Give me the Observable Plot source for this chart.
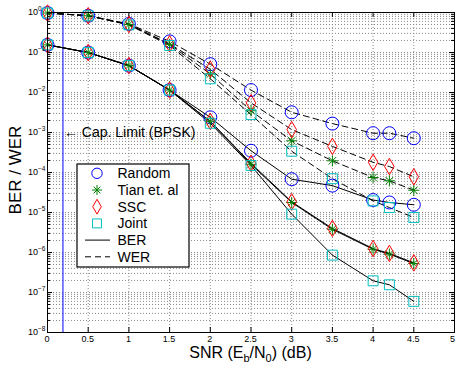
<!DOCTYPE html>
<html><head><meta charset="utf-8">
<script src="https://cdn.jsdelivr.net/npm/d3@7"></script>
<script src="https://cdn.jsdelivr.net/npm/@observablehq/plot@0.6"></script>
<style>
body{margin:0;background:#fff}
svg{font-family:"Liberation Sans",Arial,Helvetica,sans-serif}
</style>
</head><body><div id="chart"></div>
<script>
// ---- data ----
const snr = [0, 0.5, 1, 1.5, 2, 2.5, 3, 3.5, 4, 4.2, 4.5];
const schemes = ["Random", "Tian et. al", "SSC", "Joint"];
const berRandom = [0.155, 0.1, 0.047, 0.0115, 0.0024, 3.5e-4, 6.8e-5, 4.7e-5, 2.05e-5, 1.78e-5, 1.56e-5];
const berTian   = [0.155, 0.1, 0.047, 0.0115, 0.0019, 1.6e-4, 1.78e-5, 3.8e-6, 1.2e-6, 9.1e-7, 5.3e-7];
const berSSC    = [0.155, 0.1, 0.047, 0.0115, 0.0019, 1.7e-4, 1.85e-5, 4.0e-6, 1.25e-6, 9.5e-7, 5.5e-7];
const berJoint  = [0.155, 0.1, 0.047, 0.0115, 0.0017, 1.5e-4, 9.1e-6, 8.6e-7, 1.96e-7, 1.56e-7, 6e-8];
const werRandom = [0.97, 0.83, 0.52, 0.19, 0.051, 0.0115, 0.0032, 0.00167, 0.00096, 0.00096, 0.00072];
const werTian   = [0.97, 0.83, 0.5, 0.16, 0.029, 0.0035, 0.00062, 0.000196, 7.5e-5, 6.2e-5, 3.6e-5];
const werSSC    = [0.97, 0.83, 0.5, 0.165, 0.038, 0.0055, 0.00118, 0.00045, 1.8e-4, 1.41e-4, 7.8e-5];
const werJoint  = [0.97, 0.83, 0.49, 0.15, 0.022, 0.0028, 0.00034, 7.0e-5, 1.95e-5, 1.33e-5, 7.5e-6];
const capLimit = [0.19];
const capLabel = "← Cap. Limit (BPSK)";
const capLabelY = 1e-3;
const xTicks = [0, 0.5, 1, 1.5, 2, 2.5, 3, 3.5, 4, 4.5, 5];
const yDecades = [0, -1, -2, -3, -4, -5, -6, -7, -8];
const lineLabels = ["BER", "WER"];

// ---- styles ----
const colors = ["#0000ff", "#008000", "#ff0000", "#00bfbf"];
const symbols = ["circle", "star", "diamond", "square"];
const radii = {circle: 6.5, diamond: 5, square: 5.6, star: 3.5};

const berSeries = [berRandom, berTian, berSSC, berJoint];
const werSeries = [werRandom, werTian, werSSC, werJoint];
const rows = [];
schemes.forEach((s, i) => snr.forEach((x, j) => rows.push({scheme: s, i, snr: x, ber: berSeries[i][j], wer: werSeries[i][j]})));

const yMinor = [];
for (let e = -8; e < 0; e++) for (let k = 1; k <= 9; k++) yMinor.push(k * 10 ** e);
yMinor.push(1);
const yMinorOnly = yMinor.filter(v => Math.abs(Math.log10(v) - Math.round(Math.log10(v))) > 1e-9);
const yMajor = yDecades.map(e => 10 ** e);

const W = 455, H = 368, mL = 47, mR = 1, mT = 12, mB = 36;
const fw = W - mL - mR, fh = H - mT - mB;
const gridStyle = {stroke: "#8a8a8a", strokeDasharray: "1,2", strokeWidth: 1};

function dotsFor(i, key) {
  const sym = symbols[i];
  const data = rows.filter(d => d.i === i);
  if (sym === "star") {
    return [
      Plot.dot(data, {x: "snr", y: key, symbol: "plus", r: radii.star * 1.05, stroke: colors[i], fill: "none", strokeWidth: 1}),
      Plot.dot(data, {x: "snr", y: key, symbol: "times", r: radii.star, stroke: colors[i], fill: "none", strokeWidth: 1})
    ];
  }
  return [Plot.dot(data, {x: "snr", y: key, symbol: sym, r: radii[sym], stroke: colors[i], fill: "none", strokeWidth: 1})];
}

const plot = Plot.plot({
  width: W, height: H,
  marginLeft: mL, marginRight: mR, marginTop: mT, marginBottom: mB,
  style: {fontSize: "9px", fontFamily: "Liberation Sans, Arial, sans-serif", color: "#000", background: "#fff"},
  x: {domain: [0, 5], axis: null},
  y: {type: "log", domain: [1e-8, 1], axis: null},
  marks: [
    Plot.ruleX(xTicks.filter(v => v > 0 && v < 5), gridStyle),
    Plot.ruleY(yMinor.filter(v => v > 1e-8 && v < 1), gridStyle),
    // tick marks (inside)
    Plot.ruleX(xTicks, {stroke: "#000", insetTop: fh - 5}),
    Plot.ruleX(xTicks, {stroke: "#000", insetBottom: fh - 5}),
    Plot.ruleY(yMajor, {stroke: "#000", insetRight: fw - 5}),
    Plot.ruleY(yMajor, {stroke: "#000", insetLeft: fw - 5}),
    Plot.ruleY(yMinorOnly, {stroke: "#000", insetRight: fw - 3}),
    Plot.ruleY(yMinorOnly, {stroke: "#000", insetLeft: fw - 3}),
    Plot.ruleX(capLimit, {stroke: "#0000ff", strokeWidth: 1}),
    Plot.text(capLimit, {x: d => d, y: () => capLabelY, text: () => capLabel, textAnchor: "start", dx: 1, fontSize: 14, fill: "#000"}),
    Plot.line(rows, {x: "snr", y: "ber", z: "scheme", stroke: "#000", strokeWidth: 1}),
    Plot.line(rows, {x: "snr", y: "wer", z: "scheme", stroke: "#000", strokeWidth: 1, strokeDasharray: "6,4"}),
    ...schemes.flatMap((s, i) => [...dotsFor(i, "ber"), ...dotsFor(i, "wer")]),
    Plot.frame({stroke: "#000", strokeWidth: 1})
  ]
});
document.getElementById("chart").appendChild(plot);

// ---- extra text: tick labels, axis labels, legend ----
const svg = d3.select(plot);
const ys = plot.scale("y"), xs = plot.scale("x");

const xlab = svg.append("g").attr("font-size", 9).attr("fill", "#000");
xTicks.forEach(v => {
  const last = v === 5;
  xlab.append("text").attr("x", last ? W : xs.apply(v)).attr("y", mT + fh + 7).attr("dy", "0.35em")
    .attr("text-anchor", last ? "end" : "middle").text(String(v));
});

const ylab = svg.append("g").attr("font-size", 9).attr("fill", "#000").attr("text-anchor", "start");
yDecades.forEach(e => {
  const t = ylab.append("text").attr("x", 28).attr("y", ys.apply(10 ** e)).attr("dy", "0.35em");
  t.append("tspan").text("10");
  t.append("tspan").attr("font-size", 6.5).attr("dy", -4).text(e === 0 ? "0" : "\u2212" + (-e));
});

svg.append("text").attr("transform", `translate(15,${mT + fh / 2 - 2}) rotate(-90)`)
  .attr("text-anchor", "middle").attr("dy", "0.35em").attr("font-size", 17).attr("fill", "#000").text("BER / WER");

const xl = svg.append("text").attr("x", mL + fw / 2).attr("y", 358).attr("text-anchor", "middle").attr("font-size", 16).attr("fill", "#000");
xl.append("tspan").text("SNR (E");
xl.append("tspan").attr("font-size", 11).attr("dy", 4).text("b");
xl.append("tspan").attr("dy", -4).text("/N");
xl.append("tspan").attr("font-size", 11).attr("dy", 4).text("0");
xl.append("tspan").attr("dy", -4).text(") (dB)");

// legend
const lg = svg.append("g").attr("text-anchor", "start");
lg.append("rect").attr("x", 77).attr("y", 164).attr("width", 112).attr("height", 103).attr("fill", "#fff").attr("stroke", "#000").attr("stroke-width", 1.2);
const rowY = k => 173.3 + k * 16.7;
const symType = {circle: d3.symbolCircle, diamond: d3.symbolDiamond, square: d3.symbolSquare};
schemes.forEach((s, i) => {
  const sym = symbols[i], cy = rowY(i), cx = 97;
  if (sym === "star") {
    lg.append("path").attr("d", d3.symbol(d3.symbolPlus, Math.PI * (radii.star * 0.95) ** 2)()).attr("transform", `translate(${cx},${cy})`).attr("fill", "none").attr("stroke", colors[i]);
    lg.append("path").attr("d", d3.symbol(d3.symbolTimes, Math.PI * (radii.star * 0.9) ** 2)()).attr("transform", `translate(${cx},${cy})`).attr("fill", "none").attr("stroke", colors[i]);
  } else {
    const r = radii[sym] * (sym === "circle" ? 0.8 : 0.9);
    lg.append("path").attr("d", d3.symbol(symType[sym], Math.PI * r * r)()).attr("transform", `translate(${cx},${cy})`).attr("fill", "none").attr("stroke", colors[i]);
  }
  lg.append("text").attr("x", 117.5).attr("y", cy).attr("dy", "0.35em").attr("font-size", 14).attr("fill", "#000").text(s);
});
lineLabels.forEach((s, k) => {
  const cy = rowY(4 + k);
  lg.append("line").attr("x1", 85).attr("x2", 110).attr("y1", cy).attr("y2", cy).attr("stroke", "#000").attr("stroke-dasharray", k ? "6,4" : null);
  lg.append("text").attr("x", 117.5).attr("y", cy).attr("dy", "0.35em").attr("font-size", 14).attr("fill", "#000").text(s);
});
</script>
</body></html>
